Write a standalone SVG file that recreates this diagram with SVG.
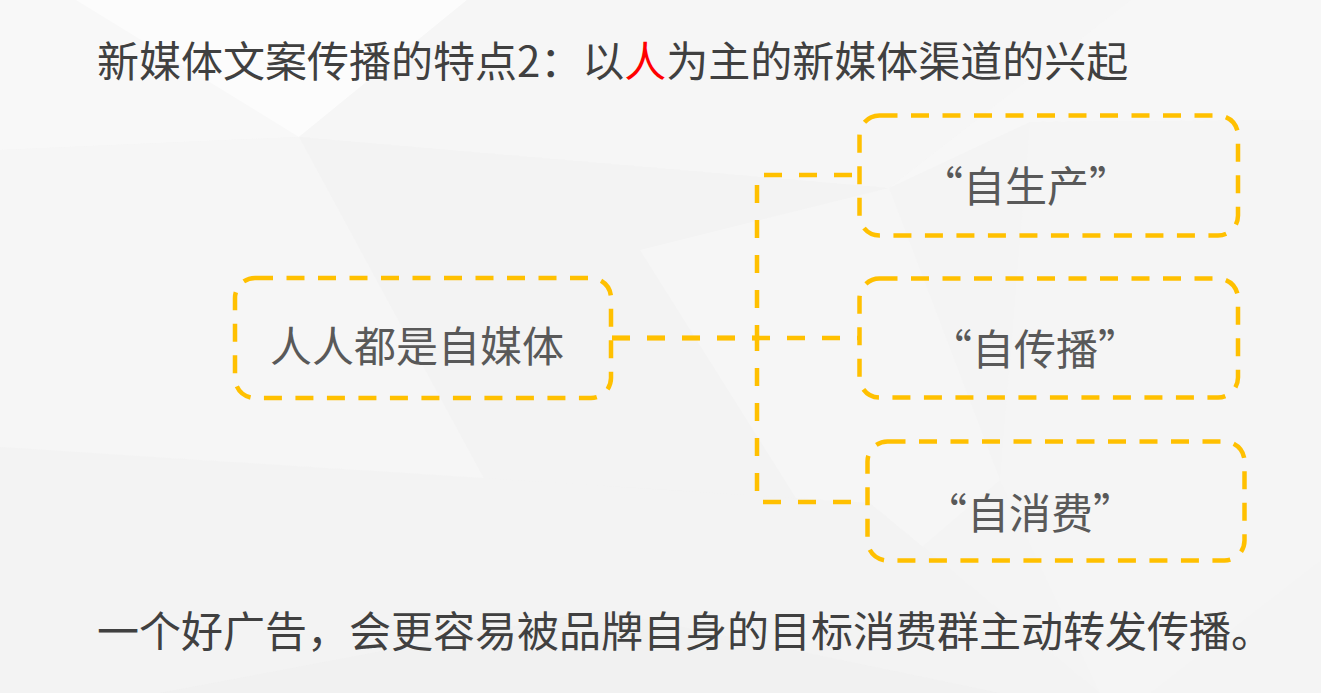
<svg xmlns="http://www.w3.org/2000/svg" width="1321" height="693" viewBox="0 0 1321 693">
<style>
.box{fill:none;stroke:#FFC000;stroke-width:4.5;stroke-dasharray:18 13.5;}
.conn{fill:none;stroke:#FFC000;stroke-width:4.5;stroke-dasharray:18 17;}
.t{font-family:"Noto Sans CJK SC","Noto Sans",sans-serif;}
.head{font-size:42px;fill:#404040;}
.lbl{font-size:42px;fill:#595959;}
</style>
<g id="background">
<rect x="0" y="0" width="1321" height="693" fill="#F4F4F4"/>
<polygon points="0,0 467,0 299,137 0,150" fill="#F8F8F8"/>
<polygon points="76,0 467,0 299,137" fill="#FCFCFC"/>
<polygon points="467,0 1131,0 889,188 299,137" fill="#F6F6F6"/>
<polygon points="299,137 889,188 760,690 600,693" fill="#F3F3F3"/>
<polygon points="889,188 1131,0 1321,0 1321,120 1030,122" fill="#F7F7F7"/>
<polygon points="640,250 889,188 1000,480 860,600" fill="#F6F6F6"/>
<polygon points="0,150 299,137 600,693 0,693" fill="#F6F6F6"/>
<polygon points="0,447 870,503 1100,693 0,693" fill="#F3F3F3" opacity="0.8"/>
<polygon points="1030,122 1321,120 1321,560 1150,693 1100,693 1000,480" fill="#F5F5F5"/>
<polygon points="160,693 600,610 1000,693" fill="#F0F0F0" opacity="0.7"/>
</g>
<g id="title">
<text class="t head" x="97" y="77">新媒体文案传播的特点2：以<tspan fill="#FF0000">人</tspan>为主的新媒体渠道的兴起</text>
</g>
<g id="connectors">
<path class="conn" d="M612,338 H858"/>
<path class="conn" d="M612,338 H757 V175 H858"/>
<path class="conn" d="M612,338 H757 V502 H866"/>
</g>
<g id="node-root">
<rect class="box" x="235" y="278" width="376" height="120" rx="20" ry="20"/>
<text class="t lbl" x="270" y="362">人人都是自媒体</text>
</g>
<g id="node-produce">
<rect class="box" x="859.5" y="115.5" width="378.5" height="120" rx="20" ry="20"/>
<text class="t lbl" x="921" y="202">“自生产”</text>
</g>
<g id="node-spread">
<rect class="box" x="859.5" y="278.5" width="378.5" height="119" rx="20" ry="20"/>
<text class="t lbl" x="930" y="365">“自传播”</text>
</g>
<g id="node-consume">
<rect class="box" x="867.5" y="441.5" width="377" height="119" rx="20" ry="20"/>
<text class="t lbl" x="925" y="529">“自消费”</text>
</g>
<g id="footer">
<text class="t head" x="97" y="647">一个好广告，会更容易被品牌自身的目标消费群主动转发传播。</text>
</g>
</svg>
